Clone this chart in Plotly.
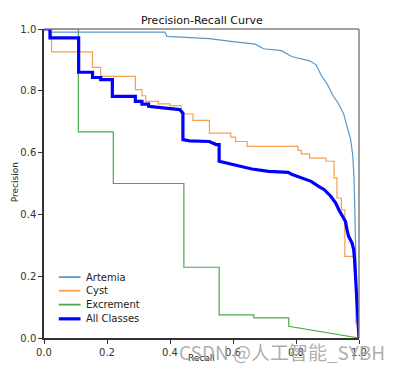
import plotly.graph_objects as go

# ---------------- data ----------------
artemia_recall = [0, 0.019, 0.02, 0.384, 0.39, 0.473, 0.525, 0.593, 0.671, 0.697, 0.754, 0.786,
                  0.843, 0.864, 0.879, 0.900, 0.916, 0.937, 0.952, 0.963, 0.973, 0.980, 0.984,
                  0.987, 0.990, 0.994, 1.0]
artemia_precision = [1.0, 1.0, 0.990, 0.990, 0.976, 0.973, 0.969, 0.960, 0.951, 0.936, 0.930, 0.911,
                     0.897, 0.884, 0.852, 0.820, 0.787, 0.755, 0.723, 0.680, 0.645, 0.593, 0.523,
                     0.40, 0.25, 0.05, 0.0]

# step curve: precision level that starts at each recall value
cyst_recall = [0, 0.024, 0.154, 0.180, 0.290, 0.311, 0.323, 0.363, 0.400, 0.436, 0.473, 0.525,
               0.593, 0.608, 0.645, 0.806, 0.817, 0.843, 0.895, 0.921, 0.930, 0.944, 0.955,
               0.984, 0.990, 1.0]
cyst_precision = [1.0, 0.926, 0.876, 0.847, 0.804, 0.784, 0.766, 0.758, 0.752, 0.725, 0.704, 0.663,
                  0.650, 0.636, 0.620, 0.607, 0.596, 0.582, 0.572, 0.518, 0.453, 0.415, 0.264,
                  0.232, 0.05, 0.0]

excrement_recall = [0, 0.109, 0.109, 0.220, 0.220, 0.444, 0.444, 0.556, 0.556, 0.666, 0.666,
                    0.777, 0.777, 1.0]
excrement_precision = [1.0, 1.0, 0.667, 0.667, 0.5, 0.5, 0.229, 0.229, 0.075, 0.075, 0.065,
                       0.065, 0.038, 0.0]

all_recall = [0, 0.019, 0.019, 0.110, 0.110, 0.154, 0.154, 0.180, 0.180, 0.217, 0.217, 0.290,
              0.290, 0.311, 0.311, 0.332, 0.332, 0.405, 0.431, 0.441, 0.441, 0.462, 0.525, 0.546,
              0.556, 0.556, 0.598, 0.660, 0.713, 0.775, 0.786, 0.807, 0.848, 0.873, 0.890, 0.911,
              0.926, 0.936, 0.946, 0.957, 0.962, 0.967, 0.978, 0.983, 0.986, 0.990, 1.0]
all_precision = [1.0, 1.0, 0.971, 0.971, 0.860, 0.860, 0.843, 0.843, 0.836, 0.836, 0.782, 0.782,
                 0.766, 0.766, 0.757, 0.757, 0.750, 0.742, 0.739, 0.728, 0.642, 0.638, 0.636, 0.626,
                 0.626, 0.572, 0.561, 0.547, 0.539, 0.536, 0.530, 0.523, 0.507, 0.490, 0.480, 0.458,
                 0.437, 0.415, 0.399, 0.377, 0.350, 0.329, 0.307, 0.286, 0.253, 0.167, 0.0]

class_names = ["Artemia", "Cyst", "Excrement", "All Classes"]
tick_vals = [0, 0.2, 0.4, 0.6, 0.8, 1.0]
tick_text = ["0.0", "0.2", "0.4", "0.6", "0.8", "1.0"]

colors = ["#5598cb", "#f5a04e", "#4aa84a", "#0000ff"]
widths = [1.2, 1.2, 1.2, 3.2]

fig = go.Figure()
fig.add_trace(go.Scatter(x=artemia_recall, y=artemia_precision, mode="lines", name=class_names[0],
                         line=dict(color=colors[0], width=widths[0]), showlegend=False))
fig.add_trace(go.Scatter(x=cyst_recall, y=cyst_precision, mode="lines", name=class_names[1],
                         line=dict(color=colors[1], width=widths[1], shape="hv"), showlegend=False))
fig.add_trace(go.Scatter(x=excrement_recall, y=excrement_precision, mode="lines", name=class_names[2],
                         line=dict(color=colors[2], width=widths[2]), showlegend=False))
fig.add_trace(go.Scatter(x=all_recall, y=all_precision, mode="lines", name=class_names[3],
                         line=dict(color=colors[3], width=widths[3]), showlegend=False))

# manual legend (matplotlib-style compact spacing)
leg_y = [0.197, 0.153, 0.108, 0.062]
for name, c, w, yy in zip(class_names, colors, widths, leg_y):
    fig.add_shape(type="line", xref="x", yref="y", x0=0.047, x1=0.116, y0=yy, y1=yy,
                  line=dict(color=c, width=w + 0.6 if w < 2 else w))
    fig.add_annotation(x=0.126, y=yy, xref="x", yref="y", text=name, showarrow=False,
                       xanchor="left", yanchor="middle",
                       font=dict(family="DejaVu Sans", size=10, color="#222"))

# top/right spines (lighter)
fig.add_shape(type="line", xref="paper", yref="paper", x0=0, x1=1, y0=1, y1=1,
              line=dict(color="#808080", width=1.5))
fig.add_shape(type="line", xref="paper", yref="paper", x0=1, x1=1, y0=0, y1=1,
              line=dict(color="#808080", width=1.5))

axis_common = dict(range=[0, 1], tickvals=tick_vals, ticktext=tick_text, ticks="outside",
                   ticklen=4, tickwidth=1, tickcolor="#333", showgrid=False, zeroline=False,
                   showline=True, linecolor="#333", linewidth=1.5,
                   tickfont=dict(family="DejaVu Sans", size=10, color="#333"))
fig.update_xaxes(**axis_common)
fig.update_yaxes(**axis_common)

fig.add_annotation(x=0.5, y=-0.064, xref="paper", yref="paper", text="Recall", showarrow=False,
                   xanchor="center", yanchor="middle",
                   font=dict(family="DejaVu Sans", size=9, color="#222"))
fig.add_annotation(x=-0.093, y=0.503, xref="paper", yref="paper", text="Precision", showarrow=False,
                   textangle=-90, xanchor="center", yanchor="middle",
                   font=dict(family="DejaVu Sans", size=9, color="#222"))
fig.add_annotation(x=0.755, y=-0.045, xref="paper", yref="paper", text="CSDN @人工智能_SYBH",
                   showarrow=False, xanchor="center", yanchor="middle",
                   font=dict(family="Noto Sans CJK SC", size=19, color="rgba(160,160,160,0.85)"))

# page body adds an 8px offset; compensate in margins
fig.update_layout(
    width=402, height=372,
    margin=dict(l=31, r=51, t=21, b=42),
    paper_bgcolor="white", plot_bgcolor="white",
    title=dict(text="Precision-Recall Curve", x=0.501, xref="paper", y=1 - 12 / 372,
               yref="container", xanchor="center", yanchor="middle",
               font=dict(family="DejaVu Sans", size=11, color="#111")),
)

fig.write_html("out.html")
